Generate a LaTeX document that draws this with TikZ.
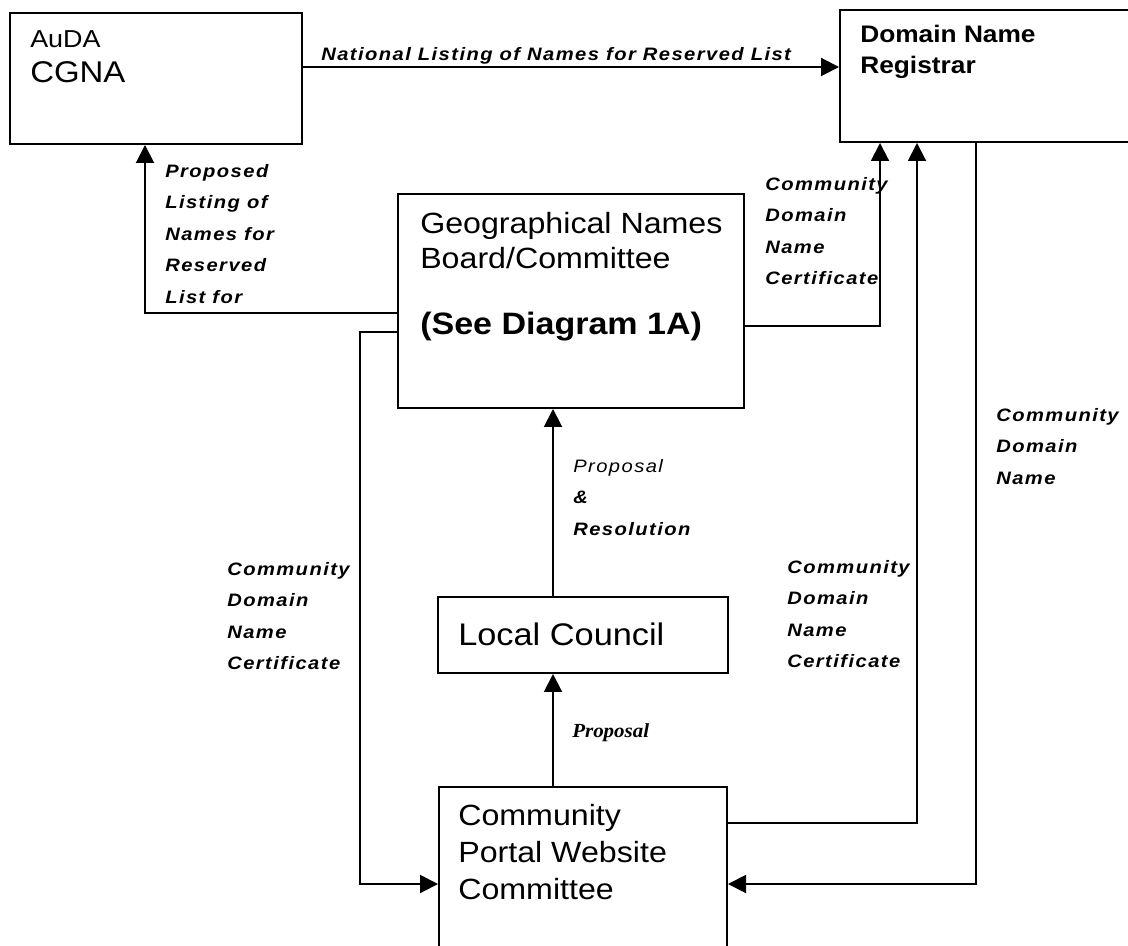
\documentclass[tikz,border=0pt]{standalone}
\usepackage{fontspec}
\setmainfont[FakeStretch=1.1]{Liberation Sans}
\newfontfamily\lblfont[FakeStretch=1.12,LetterSpace=8]{Liberation Sans}
\newfontfamily\serlbl[FakeStretch=1.05]{Liberation Serif}
\usetikzlibrary{arrows.meta,fit}

\begin{document}
\begin{tikzpicture}[x=0.025cm, y=-0.025cm,
  box/.style={draw, line width=1.4pt, inner sep=0pt},
  boxtxt/.style={inner sep=0pt, align=left, font=\fontsize{20.8}{24.9}\selectfont},
  lbl/.style={inner sep=0pt, align=left, anchor=north west, font=\lblfont\bfseries\itshape\fontsize{12.8}{22.4}\selectfont},
  arr/.style={line width=1.4pt, -{Triangle[length=0.45cm,width=0.45cm]}}]
\clip (0,0) rectangle (1128,945);

\node[box, fit={(10,13) (302,144)}] (auda) {};
\node[box, fit={(840,10) (1140,142)}] (reg) {};
\node[box, fit={(398,194) (744,408)}] (geo) {};
\node[box, fit={(438,597) (728,673)}] (lc) {};
\node[box, fit={(439,787) (727,960)}] (cpw) {};

\node[boxtxt, anchor=base west, font=\fontsize{17.4}{20}\selectfont] (audat) at (30,48) {AuDA};
\node[boxtxt, anchor=base west, font=\fontsize{21.3}{25}\selectfont] (cgna) at (30,83) {CGNA};
\node[boxtxt, anchor=north west, font=\bfseries\fontsize{17}{22}\selectfont] (regt) at (860,25) {Domain Name\\Registrar};
\node[boxtxt, anchor=north west] (geot) at (420,212) {Geographical Names\\Board/Committee};
\node[boxtxt, anchor=base west, font=\bfseries\fontsize{22}{25}\selectfont] (seet) at (420,334) {(See Diagram 1A)};
\node[boxtxt, anchor=base west, font=\fontsize{22.2}{28}\selectfont] (lct) at (458,645) {Local Council};
\node[boxtxt, anchor=north west, font=\fontsize{20.8}{26.3}\selectfont] (cpwt) at (458,804) {Community\\Portal Website\\Committee};

\node[anchor=base west, inner sep=0pt, font=\lblfont\bfseries\itshape\fontsize{12.8}{15}\selectfont] (natl) at (321,61) {\underline{National Listing of Names for Reserved List}};
\node[lbl] (propl) at (165,164) {Proposed\\Listing of\\Names for\\Reserved\\List for};
\node[lbl] (certgeo) at (765,177) {Community\\Domain\\Name\\Certificate};
\node[lbl] (cdn) at (996,408) {Community\\Domain\\Name};
\node[lbl] (propres) at (573,459) {{\mdseries Proposal}\\\&\\Resolution};
\node[lbl] (certleft) at (227,562) {Community\\Domain\\Name\\Certificate};
\node[lbl] (certmid) at (787,560) {Community\\Domain\\Name\\Certificate};
\node[lbl, anchor=base west, font=\serlbl\bfseries\itshape\fontsize{14.2}{17}\selectfont] (propt) at (572,737) {Proposal};

\coordinate (lbend) at (360,884);
\draw[arr] (auda.east |- 0,67) -- (reg.west |- 0,67);
\draw[arr] (geo.west |- 0,313) -| (auda.south -| 145,0);
\draw[arr] (geo.east |- 0,326) -| (reg.south -| 880,0);
\draw[arr] (cpw.east |- 0,823) -| (reg.south -| 917,0);
\draw[arr] (reg.south -| 976,0) |- (cpw.east |- 0,884);
\draw[arr] (geo.west |- 0,332) -| (lbend) -- (cpw.west |- lbend);
\draw[arr] (lc.north -| 553,0) -- (geo.south -| 553,0);
\draw[arr] (cpw.north -| 553,0) -- (lc.south -| 553,0);
\end{tikzpicture}
\end{document}
